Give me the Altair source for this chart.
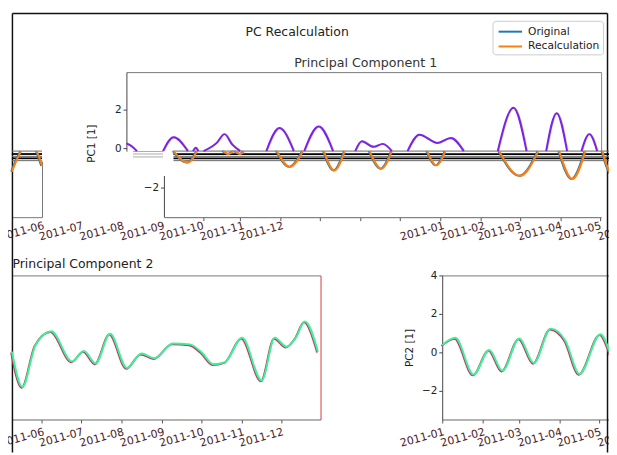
import altair as alt
import pandas as pd

# ---------------- data ----------------
SERIES = ["Original", "Recalculation"]
TITLE = "PC Recalculation"
PC1_TITLE = "Principal Component 1"
PC2_TITLE = "Principal Component 2"
PC1_YLABEL = "PC1 [1]"
PC2_YLABEL = "PC2 [1]"

# PC1, part above the zero band (one hump per segment id)
PC1_POS_DATES = [
    "2010-12-04", "2010-12-08", "2010-12-12",
    "2011-01-01", "2011-01-09", "2011-01-20",
    "2011-01-24", "2011-01-26", "2011-01-28",
    "2011-02-01", "2011-02-11", "2011-02-17", "2011-02-23", "2011-03-01",
    "2011-03-21", "2011-03-31", "2011-04-11",
    "2011-04-19", "2011-04-30", "2011-05-11",
    "2011-05-28", "2011-06-02", "2011-06-11", "2011-06-18", "2011-06-25",
    "2011-07-07", "2011-07-16", "2011-07-30", "2011-08-09", "2011-08-19",
    "2011-09-14", "2011-09-26", "2011-10-06",
    "2011-10-21", "2011-10-29", "2011-11-06",
    "2011-11-17", "2011-11-23", "2011-11-29",
]
PC1_POS_VALUES = [
    0.25, 0.10, -0.15,
    -0.15, 0.56, -0.15,
    -0.15, 0.02, -0.15,
    -0.15, 0.27, 0.72, 0.18, -0.15,
    -0.15, 1.03, -0.15,
    -0.15, 1.11, -0.15,
    -0.15, 0.35, 0.07, 0.22, -0.15,
    -0.15, 0.69, 0.27, 0.52, -0.15,
    -0.15, 2.07, -0.15,
    -0.15, 1.79, -0.15,
    -0.15, 0.72, -0.15,
]
PC1_POS_SEG = [0, 0, 0, 1, 1, 1, 2, 2, 2, 3, 3, 3, 3, 3, 4, 4, 4, 5, 5, 5,
               6, 6, 6, 6, 6, 7, 7, 7, 7, 7, 8, 8, 8, 9, 9, 9, 10, 10, 10]

# PC1, part below the zero band (one dip per segment id)
PC1_NEG_DATES = [
    "2011-01-09", "2011-01-20", "2011-01-27",
    "2011-02-16", "2011-02-20", "2011-02-24",
    "2011-02-25", "2011-03-01", "2011-03-04",
    "2011-03-29", "2011-04-08", "2011-04-18",
    "2011-05-04", "2011-05-12", "2011-05-20",
    "2011-06-08", "2011-06-17", "2011-06-25",
    "2011-07-22", "2011-07-29", "2011-08-05",
    "2011-09-15", "2011-10-01", "2011-10-15",
    "2011-10-31", "2011-11-10", "2011-11-20",
    "2011-12-03", "2011-12-07", "2011-12-10", "2011-12-12", "2011-12-15", "2011-12-19",
    "2011-12-31", "2012-01-02", "2012-01-04",
]
PC1_NEG_VALUES = [
    -0.15, -0.74, -0.15,
    -0.15, -0.30, -0.15,
    -0.15, -0.30, -0.15,
    -0.15, -0.96, -0.15,
    -0.15, -1.14, -0.15,
    -0.15, -1.05, -0.15,
    -0.15, -0.88, -0.15,
    -0.15, -1.42, -0.15,
    -0.15, -1.58, -0.15,
    -0.15, -1.00, -1.35, -1.20, -0.70, -0.15,
    -0.15, -0.50, -0.91,
]
PC1_NEG_SEG = [0, 0, 0, 1, 1, 1, 2, 2, 2, 3, 3, 3, 4, 4, 4, 5, 5, 5, 6, 6, 6,
               7, 7, 7, 8, 8, 8, 9, 9, 9, 9, 9, 9, 10, 10, 10]

PC2_DATES = [
    "2011-01-01", "2011-01-11", "2011-01-25", "2011-02-06", "2011-02-16",
    "2011-03-01", "2011-03-12", "2011-03-25", "2011-04-05", "2011-04-16",
    "2011-05-02", "2011-05-09", "2011-05-17", "2011-05-27", "2011-06-08",
    "2011-06-24", "2011-07-03", "2011-07-12", "2011-07-23", "2011-08-05",
    "2011-08-16", "2011-08-26", "2011-09-09", "2011-09-22", "2011-10-01",
    "2011-10-10", "2011-10-19", "2011-11-01", "2011-11-16", "2011-11-26",
    "2011-12-05", "2011-12-12", "2011-12-19", "2011-12-29",
]
PC2_VALUES = [
    0.37, 0.75, -1.16, 0.12, -0.96,
    0.72, -0.56, 1.23, 0.63, -1.13,
    0.94, 0.03, -1.81, 0.37, 1.09,
    -0.48, 0.07, -0.58, 0.96, -0.82,
    -0.07, -0.31, 0.46, 0.41, 0.00,
    -0.62, -0.51, 0.75, -1.47, 0.75,
    0.29, 0.75, 1.60, 0.03,
]

PC1_TICKS_UPPER = [0, 2]
PC1_TICKS_LOWER = [-2]
PC2_TICKS = [-2, 0, 2, 4]

BAND_DARK = [-0.30, -0.52]
BAND_GREY = [-0.15, -0.42, -0.64]
BAND_LIGHT = [-0.17, -0.30, -0.45]

# ---------------- layout / style ----------------
W, H = 609, 447
DAY_PX = 1.325
FONT = "DejaVu Sans"
BLUE, ORANGE = "#1f77b4", "#ff7f0e"
PURPLE = "#7d1ff0"
GREEN = "#3cf296"
LABEL_COLOR = "#4e2228"


def ms(s):
    return int(pd.Timestamp(s, tz="UTC").value // 10**6)


def tscale(d0, d1, x0):
    days = (pd.Timestamp(d1) - pd.Timestamp(d0)).days
    return alt.Scale(type="utc", domain=[ms(d0), ms(d1)],
                     range=[round(x0, 2), round(x0 + days * DAY_PX, 2)], nice=False)


def y1px(v):
    return 139.06 - 19.758 * v


def y2px(v):
    return 345.87 - 19.4667 * v


def qscale(v0, v1, f):
    return alt.Scale(domain=[v0, v1], range=[round(f(v0), 2), round(f(v1), 2)],
                     zero=False, nice=False)


def months(a, b):
    return [ms(d) for d in pd.date_range(a, b, freq="MS").strftime("%Y-%m-%d")]


X1 = tscale("2010-12-04", "2011-12-02", 120)
X1B = tscale("2011-01-02", "2011-12-02", 120 + 29 * DAY_PX)
XF = tscale("2011-12-12", "2012-01-04", 4)
X2R = tscale("2011-01-01", "2011-06-15", 440)
X2L = tscale("2011-05-09", "2011-12-31", 4)
Y1 = qscale(-3.54, 3.9, y1px)
Y1A = qscale(-0.15, 3.9, y1px)
Y1B = qscale(-3.54, -1.4, y1px)
YF = qscale(-3.54, -0.66, y1px)
Y2 = qscale(-3.5, 4.0, y2px)
FX = alt.Scale(domain=[0, 1], range=[4, 607], zero=False, nice=False)
FY = alt.Scale(domain=[0, 1], range=[H, 2], zero=False, nice=False)


def border(orient, offset, color="#777777", width=1.0, **extra):
    opts = dict(orient=orient, offset=offset, domainColor=color, domainWidth=width,
                ticks=False, labels=False, grid=False, title=None)
    opts.update(extra)
    return alt.Axis(**opts)


def date_axis(offset, values, show_domain=True, show_ticks=True, labels=True):
    return alt.Axis(orient="bottom", offset=offset, values=values, format="%Y-%m",
                    grid=False, title=None, domain=show_domain, domainColor="#666666",
                    ticks=True, tickSize=3.5, tickColor="#555555",
                    tickOpacity=1 if show_ticks else 0, labels=labels,
                    labelAngle=-15, labelAlign="right", labelBaseline="top",
                    labelPadding=3, labelFontSize=11, labelColor=LABEL_COLOR,
                    labelOverlap=False, labelFlush=False)


def value_axis(orient, offset, values, **extra):
    opts = dict(orient=orient, offset=offset, values=values, grid=False,
                domainColor="#444444", tickColor="#444444", tickSize=3.5,
                labelFontSize=10.5, labelColor="#222222", labelPadding=2,
                labelFlush=False, labelOverlap=False, title=None)
    opts.update(extra)
    return alt.Axis(**opts)


def carrier(xs, ys, xaxis=None, yaxis=None, xtype="temporal"):
    df = pd.DataFrame({"cx": [xs.domain[0]], "cy": [ys.domain[0]]})
    return alt.Chart(df).mark_point(opacity=0).encode(
        x=alt.X("cx", type=xtype, scale=xs, axis=xaxis),
        y=alt.Y("cy", type="quantitative", scale=ys, axis=yaxis),
    )


def band(levels, xs, d0, d1, color, width):
    df = pd.DataFrame({"level": levels, "t0": ms(d0), "t1": ms(d1)})
    return alt.Chart(df).mark_rule(color=color, strokeWidth=width).encode(
        x=alt.X("t0:T", scale=xs, axis=None), x2="t1:T",
        y=alt.Y("level:Q", scale=Y1, axis=None))


pos_df = pd.DataFrame({"t": [ms(d) for d in PC1_POS_DATES], "value": PC1_POS_VALUES,
                       "seg": PC1_POS_SEG})
neg_df = pd.concat([
    pd.DataFrame({"t": [ms(d) for d in PC1_NEG_DATES], "value": PC1_NEG_VALUES,
                  "seg": PC1_NEG_SEG, "series": s}) for s in SERIES
], ignore_index=True)
pc2_df = pd.DataFrame({"t": [ms(d) for d in PC2_DATES], "value": PC2_VALUES})

LEGEND = alt.Legend(orient="none", legendX=491, legendY=10, direction="vertical",
                    title=None, symbolType="M-1.7,0H1.7", symbolSize=196,
                    symbolStrokeWidth=2, symbolOffset=7,
                    labelFontSize=10.8, labelColor="#222222", labelOffset=10, padding=3,
                    rowPadding=2, strokeColor="#cccccc", fillColor="white", cornerRadius=3)
COLOR = alt.Color("series:N", scale=alt.Scale(domain=SERIES, range=[BLUE, ORANGE]),
                  legend=LEGEND)


def pos_line(color, dx=0.0, opacity=1.0):
    mk = dict(interpolate="monotone", color=color, strokeWidth=2, opacity=opacity)
    if dx:
        mk["xOffset"] = dx
    return alt.Chart(pos_df).mark_line(**mk).encode(
        x=alt.X("t:T", scale=X1, axis=None), y=alt.Y("value:Q", scale=Y1, axis=None),
        detail="seg:N")


def neg_line(series, xs, filt=None, dx=0.0):
    ch = alt.Chart(neg_df).transform_filter(f"datum.series == '{series}'")
    if filt:
        ch = ch.transform_filter(filt)
    mk = dict(interpolate="monotone", strokeWidth=2)
    if dx:
        mk["xOffset"] = dx
    return ch.mark_line(**mk).encode(
        x=alt.X("t:T", scale=xs, axis=None), y=alt.Y("value:Q", scale=Y1, axis=None),
        detail="seg:N", color=COLOR)


def pc2_line(xs, color, dx=0.0, dy=0.0, filt=None):
    ch = alt.Chart(pc2_df)
    if filt:
        ch = ch.transform_filter(filt)
    mk = dict(interpolate="monotone", color=color, strokeWidth=2)
    if dx:
        mk["xOffset"] = dx
    if dy:
        mk["yOffset"] = dy
    return ch.mark_line(**mk).encode(
        x=alt.X("t:T", scale=xs, axis=None), y=alt.Y("value:Q", scale=Y2, axis=None))


frag_filter = f"datum.t >= {ms('2011-12-12')} && datum.t <= {ms('2012-01-04')}"
left_filter = f"datum.t >= {ms('2011-05-09')}"

layers = [
    # figure frame + main title
    carrier(FX, FY,
            xaxis=border("top", -2, "#111111", 1.5, title=TITLE, titleX=292.5, titleY=23,
                         titleAlign="center", titleBaseline="alphabetic", titleAngle=0,
                         titleFontSize=12.6, titleFontWeight="normal", titleColor="#222222"),
            yaxis=border("left", -4, "#111111", 1.5), xtype="quantitative"),
    carrier(FX, FY, yaxis=border("right", -2, "#111111", 1.5), xtype="quantitative"),
    # zero band
    band(BAND_LIGHT, X1, "2010-12-09", "2011-01-01", "#aaaaaa", 1),
    band(BAND_GREY, X1, "2011-01-09", "2012-01-10", "#666666", 1),
    band(BAND_DARK, X1, "2011-01-09", "2012-01-10", "#000000", 1.8),
    band(BAND_GREY, XF, "2011-12-12", "2012-01-04", "#666666", 1),
    band(BAND_DARK, XF, "2011-12-12", "2012-01-04", "#000000", 1.8),
    # PC1 lines
    neg_line("Original", X1, dx=-0.8),
    neg_line("Recalculation", X1),
    neg_line("Original", XF, filt=frag_filter, dx=-0.8),
    neg_line("Recalculation", XF, filt=frag_filter),
    pos_line("#bdd33a", dx=0.8, opacity=0.6),
    pos_line(PURPLE),
    # PC2 lines
    pc2_line(X2R, "#c8326e", dx=-0.8, dy=0.8),
    pc2_line(X2R, GREEN),
    pc2_line(X2L, "#c8326e", dx=-0.8, dy=0.8, filt=left_filter),
    pc2_line(X2L, GREEN, filt=left_filter),
    # PC1 axes
    carrier(X1, Y1A,
            xaxis=border("top", -62, "#777777", 1, title=PC1_TITLE, titleX=362, titleY=-6,
                         titleAlign="center", titleBaseline="alphabetic", titleAngle=0,
                         titleFontSize=12.8, titleFontWeight="normal", titleColor="#333333"),
            yaxis=value_axis("left", -120, PC1_TICKS_UPPER, title=PC1_YLABEL,
                             titleX=-35, titleY=134, titleAngle=270, titleAlign="center",
                             titleBaseline="middle", titleFontSize=10.5,
                             titleFontWeight="normal", titleColor="#222222")),
    carrier(X1, Y1A, yaxis=border("right", -8, "#8a84b0", 1)),
    carrier(X1B, Y1B,
            xaxis=date_axis(-238, months("2011-01-02", "2011-12-02"), labels=False),
            yaxis=value_axis("left", -158, PC1_TICKS_LOWER)),
    carrier(XF, YF, xaxis=border("bottom", -238, "#777777", 1),
            yaxis=border("right", round(XF.range[1] - W, 2), "#777777", 1)),
    # duplicated date labels under the top panel
    carrier(X2L, Y2, xaxis=date_axis(-242, months("2011-05-09", "2011-12-31"),
                                     show_domain=False, show_ticks=False)),
    carrier(X2R, Y2, xaxis=date_axis(-242, months("2011-01-01", "2011-06-15"),
                                     show_domain=False, show_ticks=False)),
    # PC2 right panel axes
    carrier(X2R, Y2,
            xaxis=date_axis(-33, months("2011-01-01", "2011-06-15")),
            yaxis=value_axis("left", -440, PC2_TICKS, title=PC2_YLABEL,
                             titleX=-33, titleY=341, titleAngle=270, titleAlign="center",
                             titleBaseline="middle", titleFontSize=10.5,
                             titleFontWeight="normal", titleColor="#222222")),
    carrier(X2R, Y2, xaxis=border("top", -268, "#777777", 1)),
    # PC2 left panel axes
    carrier(X2L, Y2,
            xaxis=date_axis(-33, months("2011-05-09", "2011-12-31")),
            yaxis=border("right", round(X2L.range[1] - W, 2), "#d23a3a", 1)),
    carrier(X2L, Y2,
            xaxis=border("top", -268, "#777777", 1, title=PC2_TITLE, titleX=4, titleY=-8,
                         titleAlign="left", titleBaseline="alphabetic", titleAngle=0,
                         titleFontSize=12.6, titleFontWeight="normal", titleColor="#222222")),
]

chart = (
    alt.layer(*layers)
    .resolve_scale(x="independent", y="independent")
    .properties(width=W, height=H, autosize=alt.AutoSizeParams(type="none"), padding=0)
    .configure(font=FONT)
    .configure_view(strokeWidth=0)
)

chart.save("out.html", embed_options={"renderer": "svg", "actions": False})
